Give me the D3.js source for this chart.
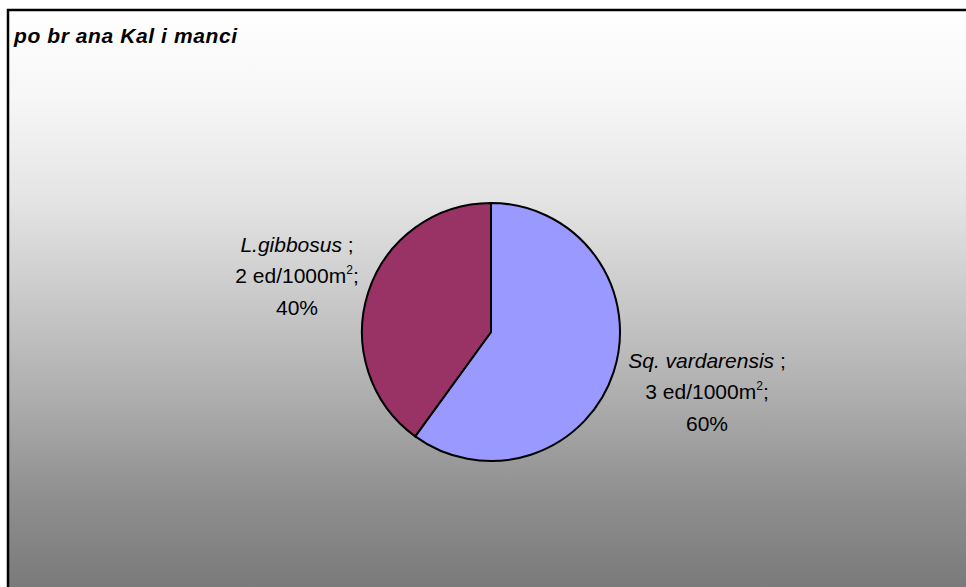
<!DOCTYPE html>
<html><head><meta charset="utf-8">
<script src="https://cdn.jsdelivr.net/npm/d3@7/dist/d3.min.js"></script>
<style>html,body{margin:0;padding:0;background:#fff;overflow:hidden}</style>
</head><body>
<script>
const title = "po br ana Kal i manci";
const species = ["Sq. vardarensis", "L.gibbosus"];
const counts = [3, 2];
const percents = ["60%", "40%"];
const colors = ["#9999FF", "#993366"];

const W = 966, H = 587;
const svg = d3.select("body").append("svg").attr("width", W).attr("height", H)
  .style("font-family", "'Liberation Sans', Arial, sans-serif");

const defs = svg.append("defs");
const grad = defs.append("linearGradient").attr("id", "bg")
  .attr("gradientUnits", "userSpaceOnUse").attr("x1", 0).attr("y1", 10).attr("x2", 0).attr("y2", 587);
[[10,"#ffffff"],[100,"#f6f6f6"],[200,"#e4e4e4"],[300,"#c9c9c9"],[400,"#adadad"],[500,"#8e8e8e"],[587,"#7a7a7a"]]
  .forEach(([y,c]) => grad.append("stop").attr("offset", ((y-10)/577)).attr("stop-color", c));

svg.append("rect").attr("x", 8).attr("y", 10).attr("width", W + 20).attr("height", H + 20)
  .attr("fill", "url(#bg)").attr("stroke", "#000").attr("stroke-width", 2.5);

svg.append("text").attr("x", 14).attr("y", 43)
  .attr("font-size", 21).attr("font-weight", "bold").attr("font-style", "italic")
  .attr("textLength", 223).attr("lengthAdjust", "spacing")
  .text(title);

const cx = 491, cy = 332, r = 129;
const pie = d3.pie().sort(null).value(d => d.v);
const data = species.map((s, i) => ({ s, v: counts[i], p: percents[i], c: colors[i] }));
const arcs = pie(data);
const arc = d3.arc().innerRadius(0).outerRadius(r);
const g = svg.append("g").attr("transform", `translate(${cx},${cy})`);
g.selectAll("path").data(arcs).enter().append("path")
  .attr("d", arc).attr("fill", d => d.data.c)
  .attr("stroke", "#000").attr("stroke-width", 2).attr("stroke-linejoin", "round");

const labelPos = [[707 - cx, 368 - cy], [297 - cx, 252 - cy]];
const lh = 31;
arcs.forEach((a, i) => {
  const [lx, ly] = labelPos[i];
  const lg = g.append("g").attr("transform", `translate(${lx},${ly})`)
    .attr("font-size", 21).attr("fill", "#000").attr("text-anchor", "middle");
  const t1 = lg.append("text").attr("y", 0);
  t1.append("tspan").attr("font-style", "italic").text(a.data.s);
  t1.append("tspan").text(" ;");
  const t2 = lg.append("text").attr("y", lh);
  t2.append("tspan").text(a.data.v + " ed/1000m");
  t2.append("tspan").attr("font-size", 12).attr("dy", -9).text("2");
  t2.append("tspan").attr("dy", 9).text(";");
  lg.append("text").attr("y", 2 * lh + 1).text(a.data.p);
});
</script>
</body></html>
